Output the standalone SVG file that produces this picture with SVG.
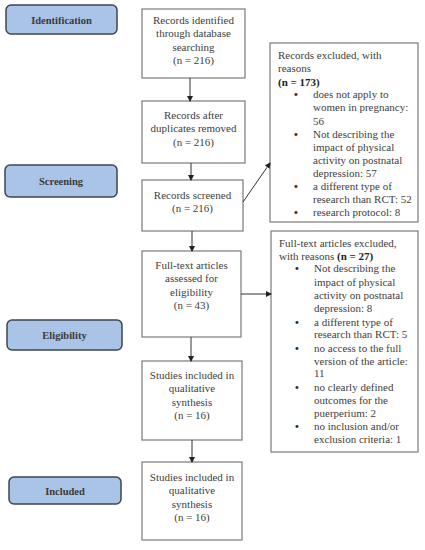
<svg xmlns="http://www.w3.org/2000/svg" width="425" height="550" viewBox="0 0 425 550">
<defs>
<marker id="ah" markerWidth="6" markerHeight="6" refX="5" refY="3" orient="auto" markerUnits="userSpaceOnUse">
<path d="M0,0 L6,3 L0,6 Z" fill="#222"/>
</marker>
<style>
.stage rect{fill:#a9c4e6;stroke:#3c4652;stroke-width:1.5}
.stage text{font-family:"Liberation Serif",serif;font-size:10.5px;font-weight:bold;fill:#3a3a3a;text-anchor:middle}
.box rect{fill:#fff;stroke:#7a7a7a;stroke-width:1.2}
.box text{font-family:"Liberation Serif",serif;font-size:11px;fill:#404040}
.box text.b{font-weight:bold;fill:#222}
.c{text-anchor:middle}
.conn line{stroke:#333;stroke-width:1;marker-end:url(#ah)}
</style>
</defs>
<rect width="425" height="550" fill="#fff"/>
<g id="stage-identification" class="stage"><rect x="6" y="5" width="111" height="29" rx="5"/><text x="61.5" y="23.5">Identification</text></g>
<g id="stage-screening" class="stage"><rect x="5" y="165" width="112" height="32" rx="5"/><text x="61" y="185">Screening</text></g>
<g id="stage-eligibility" class="stage"><rect x="7" y="320" width="115" height="30" rx="5"/><text x="64.5" y="339">Eligibility</text></g>
<g id="stage-included" class="stage"><rect x="9" y="477" width="112" height="27" rx="5"/><text x="65" y="494.5">Included</text></g>

<g id="identified" class="box"><rect x="142" y="9" width="103" height="69"/>
<text class="c" x="193.5" y="24">Records identified</text><text class="c" x="193.5" y="37">through database</text><text class="c" x="193.5" y="51">searching</text><text class="c" x="193.5" y="64">(n = 216)</text></g>
<g id="duplicates" class="box"><rect x="142" y="101" width="103" height="62"/>
<text class="c" x="193.5" y="119">Records after</text><text class="c" x="193.5" y="132">duplicates removed</text><text class="c" x="193.5" y="146">(n = 216)</text></g>
<g id="screened" class="box"><rect x="142" y="180" width="101" height="51"/>
<text class="c" x="192.5" y="199">Records screened</text><text class="c" x="192.5" y="212">(n = 216)</text></g>
<g id="fulltext" class="box"><rect x="142" y="251" width="99" height="86"/>
<text class="c" x="191.5" y="269">Full-text articles</text><text class="c" x="191.5" y="282">assessed for</text><text class="c" x="191.5" y="296">eligibility</text><text class="c" x="191.5" y="309">(n = 43)</text></g>
<g id="studies1" class="box"><rect x="142" y="361" width="100" height="79"/>
<text class="c" x="192" y="379">Studies included in</text><text class="c" x="192" y="392">qualitative</text><text class="c" x="192" y="406">synthesis</text><text class="c" x="192" y="419">(n = 16)</text></g>
<g id="studies2" class="box"><rect x="142" y="462" width="100" height="78"/>
<text class="c" x="192" y="481">Studies included in</text><text class="c" x="192" y="494">qualitative</text><text class="c" x="192" y="508">synthesis</text><text class="c" x="192" y="521">(n = 16)</text></g>

<g id="excluded1" class="box"><rect x="270" y="43" width="148" height="179"/>
<text x="278" y="59">Records excluded, with</text>
<text x="278" y="72">reasons</text>
<text x="278" y="86" class="b">(n = 173)</text>
<text x="294" y="98" class="b">•</text><text x="313" y="98">does not apply to</text>
<text x="313" y="111">women in pregnancy:</text>
<text x="313" y="125">56</text>
<text x="294" y="138" class="b">•</text><text x="313" y="138">Not describing the</text>
<text x="313" y="151">impact of physical</text>
<text x="313" y="164">activity on postnatal</text>
<text x="313" y="177">depression: 57</text>
<text x="294" y="190" class="b">•</text><text x="313" y="190">a different type of</text>
<text x="313" y="203">research than RCT: 52</text>
<text x="294" y="216" class="b">•</text><text x="313" y="216">research protocol: 8</text></g>

<g id="excluded2" class="box"><rect x="271" y="231" width="147" height="221"/>
<text x="279" y="247">Full-text articles excluded,</text>
<text x="279" y="260">with reasons <tspan font-weight="bold" fill="#222">(n = 27)</tspan></text>
<text x="295" y="272" class="b">•</text><text x="314" y="272">Not describing the</text>
<text x="314" y="286">impact of physical</text>
<text x="314" y="299">activity on postnatal</text>
<text x="314" y="312">depression: 8</text>
<text x="295" y="326" class="b">•</text><text x="314" y="326">a different type of</text>
<text x="314" y="338">research than RCT: 5</text>
<text x="295" y="352" class="b">•</text><text x="314" y="352">no access to the full</text>
<text x="314" y="365">version of the article:</text>
<text x="314" y="377">11</text>
<text x="295" y="391" class="b">•</text><text x="314" y="391">no clearly defined</text>
<text x="314" y="404">outcomes for the</text>
<text x="314" y="417">puerperium: 2</text>
<text x="295" y="430" class="b">•</text><text x="314" y="430">no inclusion and/or</text>
<text x="314" y="443">exclusion criteria: 1</text></g>

<g id="connectors" class="conn">
<line x1="190" y1="78" x2="190" y2="101"/>
<line x1="191" y1="163" x2="191" y2="180"/>
<line x1="192" y1="231" x2="192" y2="251"/>
<line x1="191" y1="337" x2="191" y2="361"/>
<line x1="192" y1="440" x2="192" y2="462"/>
<line x1="243" y1="202" x2="270" y2="163"/>
<line x1="241" y1="294" x2="271" y2="294"/>
</g>
</svg>
